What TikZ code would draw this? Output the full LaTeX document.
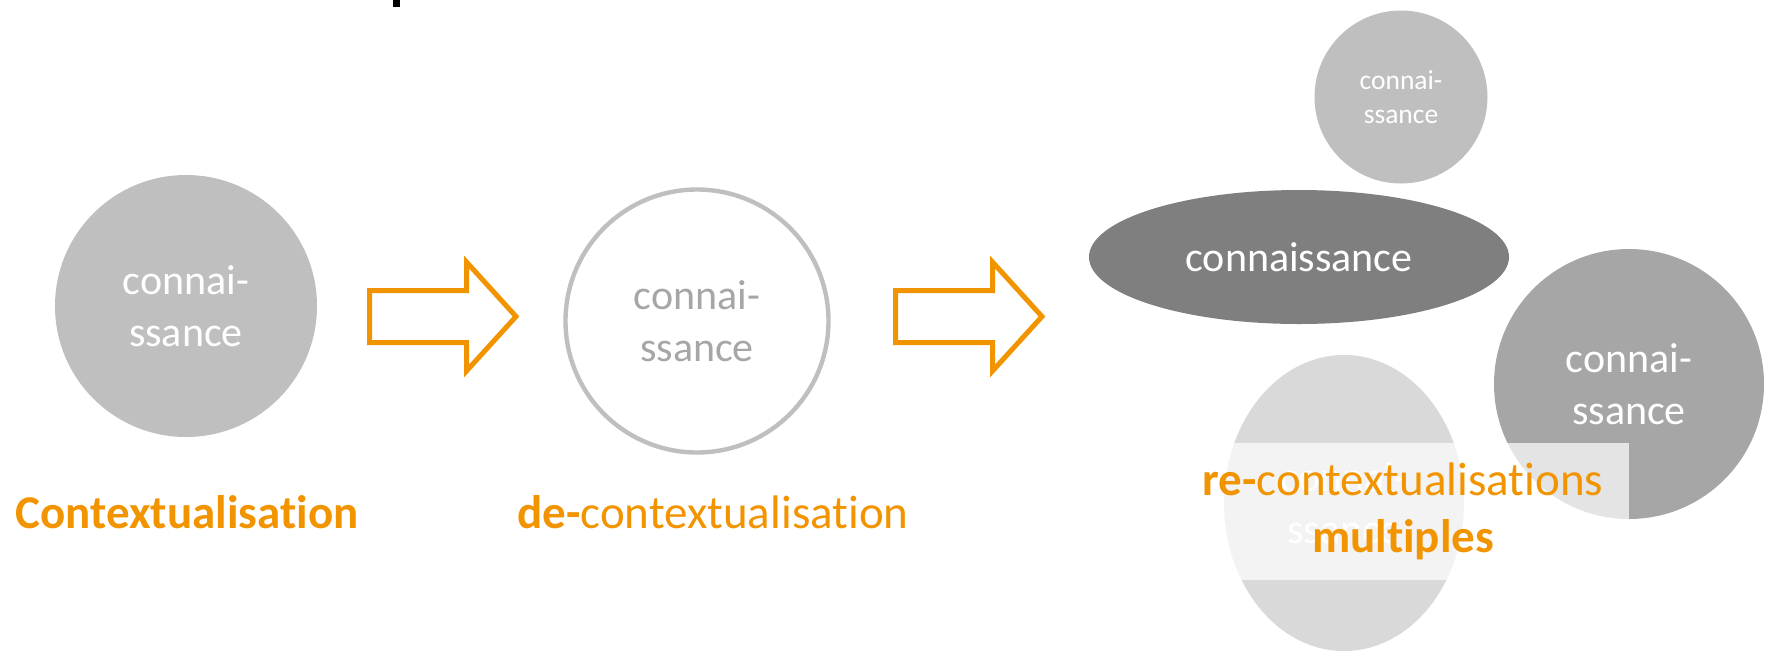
\documentclass[tikz,border=0pt]{standalone}
\usepackage{fontspec}
\setmainfont{Carlito}[Ligatures=NoCommon]
\usetikzlibrary{shapes.geometric}
\definecolor{CircleClr}{RGB}{191,191,191}
\definecolor{TextClr}{RGB}{166,166,166}
\definecolor{DarkClr}{RGB}{127,127,127}
\definecolor{MidClr}{RGB}{166,166,166}
\definecolor{LightClr}{RGB}{217,217,217}
\definecolor{ArrowClr}{RGB}{242,148,0}

\begin{document}
\begin{tikzpicture}[x=0.5pt,y=-0.5pt,
  knowledge/.style={inner sep=0pt,align=center,text=white,
    font=\fontsize{21}{26}\selectfont},
  blockarrow/.style={draw=ArrowClr,line width=2.5pt,line join=miter},
  steplabel/.style={anchor=base,text=ArrowClr,inner sep=0pt,
    font=\fontsize{23.5}{28.5}\selectfont}]
\useasboundingbox (0,0) rectangle (1769,650);

\fill (393,0) rectangle (400,7);

% contextualisation
\node[knowledge,circle,fill=CircleClr,minimum size=131pt] (K1) at (186,306) {connai-\\ssance};

\draw[blockarrow] (369.5,290.5) -- (466.5,290.5) -- (466.5,262) -- (516,316.5)
  -- (466.5,371) -- (466.5,342.5) -- (369.5,342.5) -- cycle;

% de-contextualisation
\node[knowledge,circle,draw=CircleClr,line width=2.2pt,text=TextClr,minimum size=131.5pt] (K2) at (697,321) {connai-\\ssance};

\draw[blockarrow,shift={(526,0)}] (369.5,290.5) -- (466.5,290.5) -- (466.5,262) -- (516,316.5)
  -- (466.5,371) -- (466.5,342.5) -- (369.5,342.5) -- cycle;

% re-contextualisations
\node[knowledge,circle,fill=CircleClr,minimum size=86.5pt,font=\fontsize{13.75}{17}\selectfont] (K3) at (1401,97) {connai-\\ssance};
\node[knowledge,ellipse,fill=DarkClr,minimum width=210pt,minimum height=67pt] (K4) at (1299,257) {connaissance};
\node[knowledge,circle,fill=MidClr,minimum size=135pt] (K5) at (1629,384) {connai-\\ssance};
\node[knowledge,ellipse,fill=LightClr,minimum width=120pt,minimum height=148pt] (K6) at (1344,503) {connai-\\ssance};

\node[steplabel,anchor=center,align=center,fill=white,fill opacity=0.7,text opacity=1,
  minimum width=226pt,minimum height=68.5pt] (R) at (1403,511.5)
  {\textbf{re-}contextualisations\\\textbf{multiples}};

\node[steplabel] (L1) at (187,528) {\textbf{Contextualisation}};
\node[steplabel] (L2) at (713,528) {\textbf{de-}contextualisation};

\end{tikzpicture}
\end{document}
